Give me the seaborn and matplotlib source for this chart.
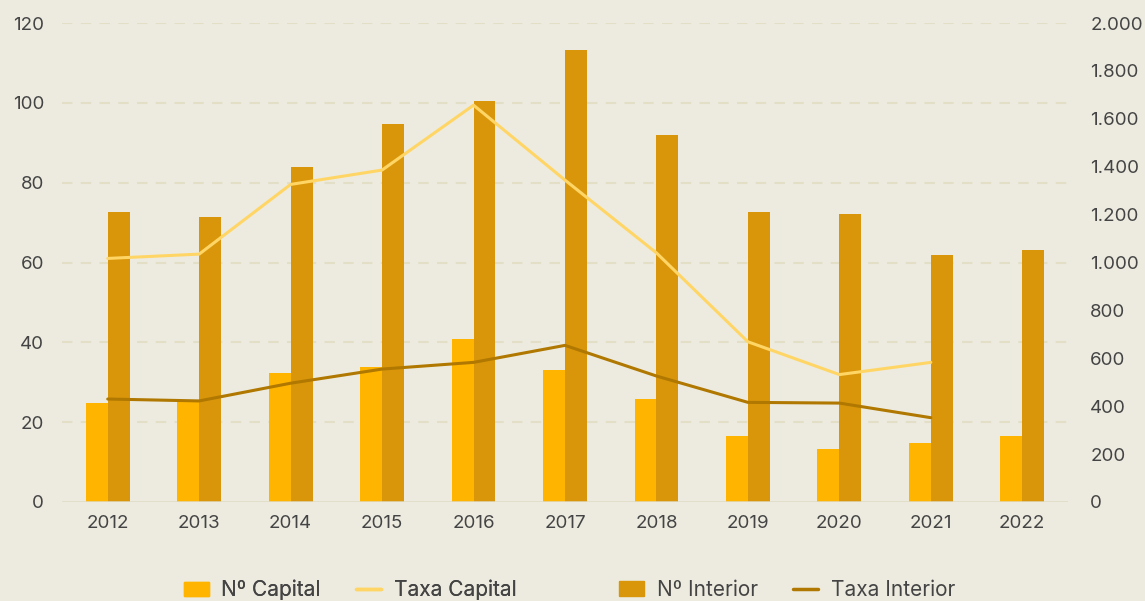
import numpy as np
import pandas as pd
import matplotlib
matplotlib.use("Agg")
import matplotlib.pyplot as plt
import seaborn as sns
from matplotlib.ticker import FuncFormatter
from matplotlib.patches import Patch
from matplotlib.lines import Line2D

# Data
years = ["2012", "2013", "2014", "2015", "2016", "2017", "2018", "2019", "2020", "2021", "2022"]
n_capital = [24.8, 25.0, 32.4, 33.9, 40.9, 33.1, 25.8, 16.5, 13.3, 14.8, 16.5]
n_interior = [72.7, 71.4, 84.0, 94.7, 100.5, 113.3, 92.0, 72.7, 72.2, 61.9, 63.2]
taxa_capital = [1017, 1035, 1326, 1386, 1657, 1344, 1040, 669, 532, 583, np.nan]
taxa_interior = [430, 422, 496, 555, 583, 654, 526, 416, 413, 352, np.nan]

bg = "#EDEBE0"
c_cap = "#FFB500"
c_int = "#D9960A"
c_tcap = "#FFD666"
c_tint = "#B07800"
txt = "#444444"

sns.set_theme(style="white")
plt.rcParams["font.family"] = ["Inter", "DejaVu Sans"]

bars = pd.DataFrame({
    "year": years * 2,
    "value": n_capital + n_interior,
    "serie": ["Nº Capital"] * len(years) + ["Nº Interior"] * len(years),
})

fig = plt.figure(figsize=(11.45, 6.01), dpi=100, facecolor=bg)
ax = fig.add_axes([62 / 1145, 1 - 502 / 601, 1006 / 1145, 479 / 601])
ax.set_facecolor(bg)

sns.barplot(data=bars, x="year", y="value", hue="serie", ax=ax,
            palette=[c_cap, c_int], width=0.48, saturation=1, legend=False,
            linewidth=0, edgecolor="none")
ax.set_xlim(-0.5, 10.5)
ax.set_ylim(0, 120)
ax.set_yticks(range(0, 121, 20))
ax.set_xlabel("")
ax.set_ylabel("")
for y in range(20, 121, 20):
    ax.axhline(y, color="#E2DFC6", lw=1.5, ls=(0, (5, 4)), zorder=0)
ax.axhline(0, color="#DEDAC4", lw=1.8, zorder=3)
for s in ax.spines.values():
    s.set_visible(False)
ax.tick_params(axis="y", length=0, pad=13, labelsize=13.5, labelcolor=txt)
ax.tick_params(axis="x", length=0, pad=9, labelsize=13.5, labelcolor=txt)

ax2 = ax.twinx()
x = np.arange(len(years))
sns.lineplot(x=x, y=taxa_capital, ax=ax2, color=c_tcap, lw=2.2)
sns.lineplot(x=x, y=taxa_interior, ax=ax2, color=c_tint, lw=2.2)
ax2.set_ylim(0, 2000)
ax2.set_yticks(range(0, 2001, 200))
ax2.yaxis.set_major_formatter(FuncFormatter(lambda v, p: f"{int(v):,}".replace(",", ".")))
for s in ax2.spines.values():
    s.set_visible(False)
ax2.tick_params(axis="y", length=0, pad=16, labelsize=13.5, labelcolor=txt)
ax2.grid(False)

leg_kw = dict(loc="center", ncol=2, frameon=False, fontsize=15, labelcolor=txt,
              handlelength=1.2, handletextpad=0.6, columnspacing=1.7)
h_cap = [Patch(color=c_cap, label="Nº Capital"),
         Line2D([], [], color=c_tcap, lw=2.5, label="Taxa Capital")]
h_int = [Patch(color=c_int, label="Nº Interior"),
         Line2D([], [], color=c_tint, lw=2.5, label="Taxa Interior")]
leg1 = fig.legend(handles=h_cap, bbox_to_anchor=(350 / 1145, 1 - 590 / 601), **leg_kw)
fig.legend(handles=h_int, bbox_to_anchor=(787 / 1145, 1 - 590 / 601), **leg_kw)
fig.add_artist(leg1)

fig.savefig("out.png", dpi=100, facecolor=bg)
